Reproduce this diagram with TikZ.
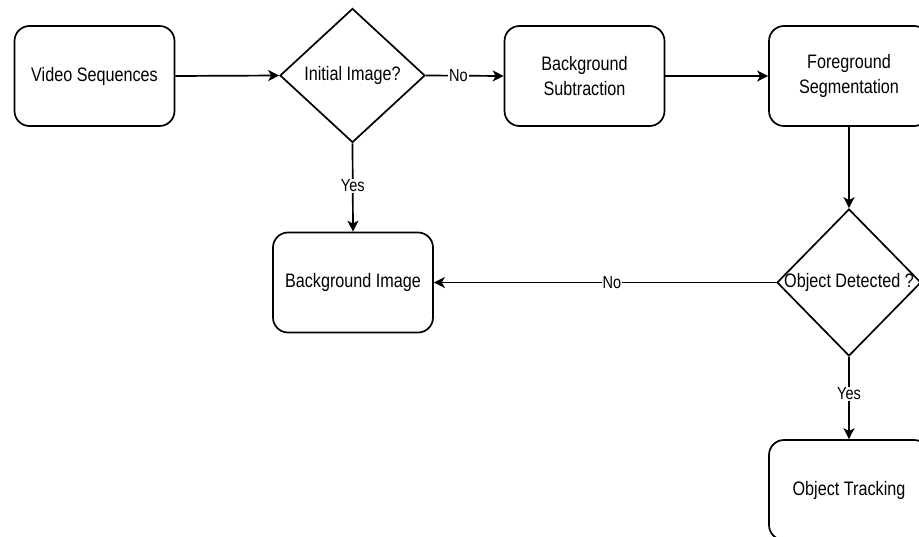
\documentclass[tikz,border=0pt]{standalone}
\usepackage{fontspec}
\setmainfont[FakeStretch=0.83]{Liberation Sans}
\usetikzlibrary{shapes.geometric,arrows.meta}

\tikzset{
  stepbox/.style={draw=black, line width=1.7pt, rounded corners=15pt,
    minimum width=160pt, minimum height=100pt, align=center,
    font=\fontsize{19.5}{24.5}\selectfont, inner sep=0pt},
  decision/.style={draw=black, line width=1.7pt, diamond, inner sep=0pt,
    font=\fontsize{19.5}{24}\selectfont},
  flow/.style={line width=1.7pt, -{Stealth[length=11pt,width=11pt,inset=3pt]}},
  lbl/.style={fill=white, inner sep=1pt, font=\fontsize{17.5}{20}\selectfont}
}

\begin{document}
\begin{tikzpicture}[x=1pt, y=-1pt]
  \useasboundingbox (0,0) rectangle (919,536);
  \clip (0,0) rectangle (919,536);
  \fill[white] (0,0) rectangle (919,536);

  % boxes of the pipeline
  \node[stepbox] (video) at (94.5,76) {Video Sequences};
  \node[stepbox] (bgsub) at (584.5,76) {Background\\Subtraction};
  \node[stepbox] (fgseg) at (849,76) {Foreground\\Segmentation};
  \node[stepbox] (bgimg) at (353,282.5) {Background Image};
  \node[stepbox] (track) at (849,490) {Object Tracking};

  % decisions
  \node[decision, minimum width=145pt, minimum height=134pt] (init) at (352.5,75.5)
    {\makebox[0pt]{Initial Image?}};
  \node[decision, minimum width=144pt, minimum height=147pt] (detect) at (849,282.5)
    {\makebox[0pt]{Object Detected ?}};

  % connectors
  \draw[flow] (video.east) -- (init.west);
  \draw[flow] (init.east) -- node[lbl, pos=0.42] (lno1) {No} (bgsub.west);
  \draw[flow] (bgsub.east) -- (fgseg.west);
  \draw[flow] (fgseg.south) -- (detect.north);
  \draw[flow] (init.south) -- node[lbl, pos=0.48] (lyes1) {Yes} (bgimg.north);
  \draw[flow] (detect.west) -- node[lbl, pos=0.48] (lno2) {No} (bgimg.east);
  \draw[flow] (detect.south) -- node[lbl, pos=0.45] (lyes2) {Yes} (track.north);
\end{tikzpicture}
\end{document}
